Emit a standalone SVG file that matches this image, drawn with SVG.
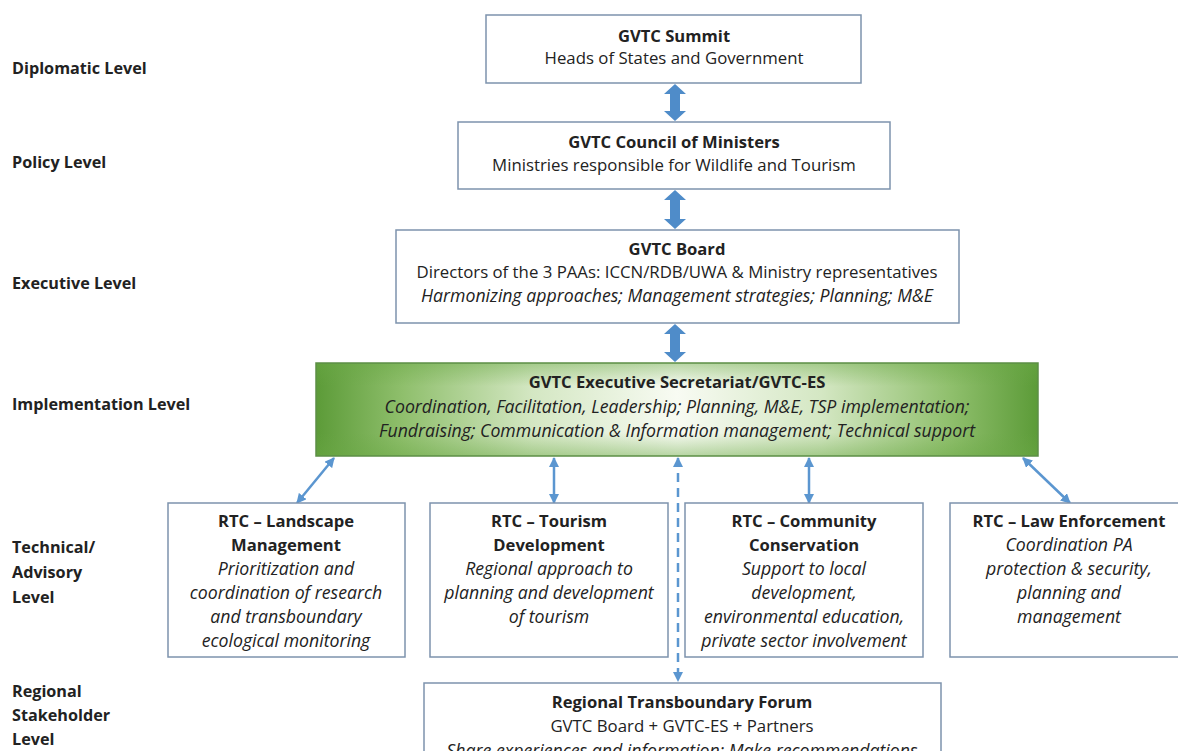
<svg xmlns="http://www.w3.org/2000/svg" width="1178" height="751" viewBox="0 0 1178 751">
<defs>
<style>
.lbl{font-family:"Open Sans","Liberation Sans",sans-serif;font-weight:bold;font-size:16.2px;fill:#222}
.t{font-family:"Open Sans","Liberation Sans",sans-serif;font-size:16.8px;fill:#222;text-anchor:middle}
.b{font-weight:bold;font-size:16.6px}
.i{font-style:italic;font-size:17.7px}
.box{fill:#fff;stroke:#7d93ad;stroke-width:1.5}
.con{stroke:#5b96d0;stroke-width:2.5;fill:none}
.blk{fill:#4f8cc9}
</style>
<linearGradient id="gh" x1="0" y1="0" x2="1" y2="0">
<stop offset="0" stop-color="#5c9b38"/>
<stop offset="0.12" stop-color="#8fbf6c"/>
<stop offset="0.3" stop-color="#d4e7c3"/>
<stop offset="0.5" stop-color="#f8fbf3"/>
<stop offset="0.7" stop-color="#d4e7c3"/>
<stop offset="0.88" stop-color="#8fbf6c"/>
<stop offset="1" stop-color="#5c9b38"/>
</linearGradient>
<linearGradient id="gv" x1="0" y1="0" x2="0" y2="1">
<stop offset="0" stop-color="#6aa845" stop-opacity="0.45"/>
<stop offset="0.25" stop-color="#6aa845" stop-opacity="0"/>
<stop offset="0.75" stop-color="#6aa845" stop-opacity="0"/>
<stop offset="1" stop-color="#6aa845" stop-opacity="0.45"/>
</linearGradient>
<marker id="h" viewBox="0 0 10 10" refX="9" refY="5" markerWidth="4" markerHeight="4" orient="auto-start-reverse">
<path d="M0,0 L10,5 L0,10 z" fill="#5b96d0"/>
</marker>
</defs>

<g id="levels">
<text class="lbl" x="12" y="74">Diplomatic Level</text>
<text class="lbl" x="12" y="168">Policy Level</text>
<text class="lbl" x="12" y="289">Executive Level</text>
<text class="lbl" x="12" y="410">Implementation Level</text>
<text class="lbl" x="12" y="553">Technical/</text>
<text class="lbl" x="12" y="578">Advisory</text>
<text class="lbl" x="12" y="603">Level</text>
<text class="lbl" x="12" y="697">Regional</text>
<text class="lbl" x="12" y="721">Stakeholder</text>
<text class="lbl" x="12" y="745">Level</text>
</g>

<g id="connectors">
<path class="blk" d="M675,84 L686,94 L680,94 L680,111 L686,111 L675,121 L664,111 L670,111 L670,94 L664,94 Z"/>
<path class="blk" d="M675,190 L686,200 L680,200 L680,219 L686,219 L675,229 L664,219 L670,219 L670,200 L664,200 Z"/>
<path class="blk" d="M675,324 L686,334 L680,334 L680,352 L686,352 L675,362 L664,352 L670,352 L670,334 L664,334 Z"/>
<line class="con" x1="334" y1="458" x2="297" y2="503" marker-start="url(#h)" marker-end="url(#h)"/>
<line class="con" x1="554" y1="458" x2="554" y2="503" marker-start="url(#h)" marker-end="url(#h)"/>
<line class="con" x1="678" y1="458" x2="678" y2="681" stroke-dasharray="9,6" marker-start="url(#h)" marker-end="url(#h)"/>
<line class="con" x1="809" y1="458" x2="809" y2="503" marker-start="url(#h)" marker-end="url(#h)"/>
<line class="con" x1="1023" y1="458" x2="1070" y2="503" marker-start="url(#h)" marker-end="url(#h)"/>
</g>

<g id="summit">
<rect class="box" x="486" y="15" width="375" height="68"/>
<text class="t b" x="674" y="42">GVTC Summit</text>
<text class="t" x="674" y="64">Heads of States and Government</text>
</g>

<g id="council">
<rect class="box" x="458" y="122" width="432" height="67"/>
<text class="t b" x="674" y="148">GVTC Council of Ministers</text>
<text class="t" x="674" y="171">Ministries responsible for Wildlife and Tourism</text>
</g>

<g id="board">
<rect class="box" x="396" y="230" width="563" height="93"/>
<text class="t b" x="677" y="255">GVTC Board</text>
<text class="t" x="677" y="278">Directors of the 3 PAAs: ICCN/RDB/UWA &amp; Ministry representatives</text>
<text class="t i" x="677" y="302">Harmonizing approaches; Management strategies; Planning; M&amp;E</text>
</g>

<g id="es">
<rect x="316" y="363" width="722" height="93" fill="url(#gh)"/>
<rect x="316" y="363" width="722" height="93" fill="url(#gv)" stroke="#5c8f46" stroke-width="1.5"/>
<text class="t b" x="677" y="388">GVTC Executive Secretariat/GVTC-ES</text>
<text class="t i" x="677" y="413">Coordination, Facilitation, Leadership; Planning, M&amp;E, TSP implementation;</text>
<text class="t i" x="677" y="437">Fundraising; Communication &amp; Information management; Technical support</text>
</g>

<g id="rtc-landscape">
<rect class="box" x="168" y="503" width="237" height="154"/>
<text class="t b" x="286" y="527">RTC – Landscape</text>
<text class="t b" x="286" y="551">Management</text>
<text class="t i" x="286" y="575">Prioritization and</text>
<text class="t i" x="286" y="599">coordination of research</text>
<text class="t i" x="286" y="623">and transboundary</text>
<text class="t i" x="286" y="647">ecological monitoring</text>
</g>

<g id="rtc-tourism">
<rect class="box" x="430" y="503" width="238" height="154"/>
<text class="t b" x="549" y="527">RTC – Tourism</text>
<text class="t b" x="549" y="551">Development</text>
<text class="t i" x="549" y="575">Regional approach to</text>
<text class="t i" x="549" y="599">planning and development</text>
<text class="t i" x="549" y="623">of tourism</text>
</g>

<g id="rtc-community">
<rect class="box" x="685" y="503" width="238" height="154"/>
<text class="t b" x="804" y="527">RTC – Community</text>
<text class="t b" x="804" y="551">Conservation</text>
<text class="t i" x="804" y="575">Support to local</text>
<text class="t i" x="804" y="599">development,</text>
<text class="t i" x="804" y="623">environmental education,</text>
<text class="t i" x="804" y="647">private sector involvement</text>
</g>

<g id="rtc-law">
<rect class="box" x="950" y="503" width="232" height="154"/>
<text class="t b" x="1069" y="527">RTC – Law Enforcement</text>
<text class="t i" x="1069" y="551">Coordination PA</text>
<text class="t i" x="1069" y="575">protection &amp; security,</text>
<text class="t i" x="1069" y="599">planning and</text>
<text class="t i" x="1069" y="623">management</text>
</g>

<g id="forum">
<rect class="box" x="424" y="683" width="517" height="80"/>
<text class="t b" x="682" y="708">Regional Transboundary Forum</text>
<text class="t" x="682" y="732">GVTC Board + GVTC-ES + Partners</text>
<text class="t i" x="682" y="757">Share experiences and information; Make recommendations</text>
</g>
</svg>
